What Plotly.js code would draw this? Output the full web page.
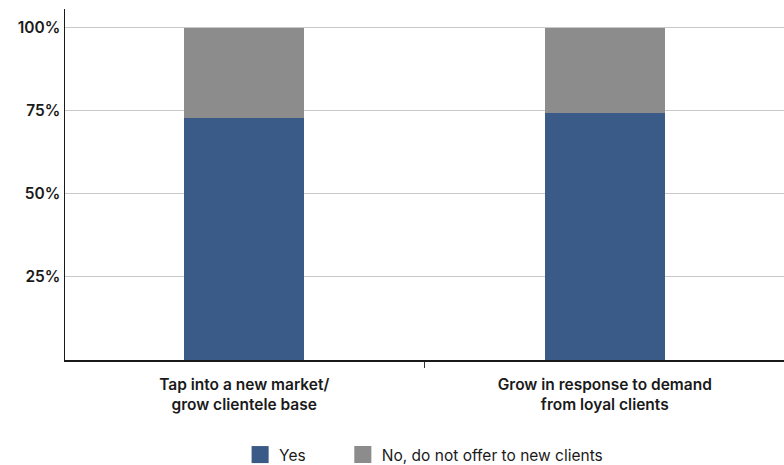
<!DOCTYPE html>
<html>
<head>
<meta charset="utf-8">
<script src="https://cdn.plot.ly/plotly-3.0.1.min.js"></script>
<style>html,body{margin:0;padding:0;background:#fff;}#chart{width:784px;height:465px;}</style>
</head>
<body>
<div id="chart"></div>
<script>
const categories = ["Tap into a new market/<br>grow clientele base", "Grow in response to demand<br>from loyal clients"];
const yesValues = [72.7, 74.4];
const noValues = [27.3, 25.6];
const seriesNames = ["Yes", "No, do not offer to new clients"];
const yTickVals = [25, 50, 75, 100];
const yTickText = ["25%", "50%", "75%", "100%"];

const FONT = "Inter, Liberation Sans, Arial, sans-serif";
const traces = [
  {type: "bar", name: seriesNames[0], legend: "legend", x: categories, y: yesValues, marker: {color: "#3a5a87"}, hoverinfo: "skip"},
  {type: "bar", name: seriesNames[1], legend: "legend2", x: categories, y: noValues, marker: {color: "#8c8c8c"}, hoverinfo: "skip"}
];
const legendBase = {
  orientation: "h", xref: "container", xanchor: "left",
  yref: "container", y: 0.0215, yanchor: "middle",
  font: {family: FONT, size: 15.5, color: "#1a1a1a"},
  bgcolor: "rgba(0,0,0,0)"
};
const layout = {
  width: 784, height: 465,
  margin: {l: 65, r: 0, t: 9, b: 105, autoexpand: false},
  barmode: "stack",
  bargap: 0.667,
  paper_bgcolor: "#fff", plot_bgcolor: "#fff",
  font: {family: FONT, color: "#1a1a1a", size: 14},
  xaxis: {
    range: [-0.497, 1.497],
    showline: true, linecolor: "#1a1a1a", linewidth: 1.5,
    ticks: "outside", tickson: "boundaries", ticklen: 6, tickcolor: "#333",
    ticklabelstandoff: 10,
    tickfont: {family: FONT, size: 15.5, weight: 600, color: "#1a1a1a"},
    showgrid: false, fixedrange: true
  },
  yaxis: {
    range: [0, 105.6],
    tickvals: yTickVals, ticktext: yTickText,
    showline: true, linecolor: "#1a1a1a", linewidth: 1.5,
    showgrid: true, gridcolor: "#c8c8c8", gridwidth: 1,
    ticks: "", ticklabelstandoff: 0,
    tickfont: {family: FONT, size: 15.5, weight: 600, color: "#1a1a1a"},
    zeroline: false, fixedrange: true
  },
  showlegend: true,
  legend: Object.assign({}, legendBase, {x: 0.305}),
  legend2: Object.assign({}, legendBase, {x: 0.436})
};
Plotly.newPlot("chart", traces, layout, {staticPlot: true}).then(function (gd) {
  gd.querySelectorAll(".legendpoints path").forEach(function (p) {
    const t = p.getAttribute("transform") || "";
    p.setAttribute("transform", t + " translate(1,0) scale(1.42)");
  });
});
</script>
</body>
</html>
